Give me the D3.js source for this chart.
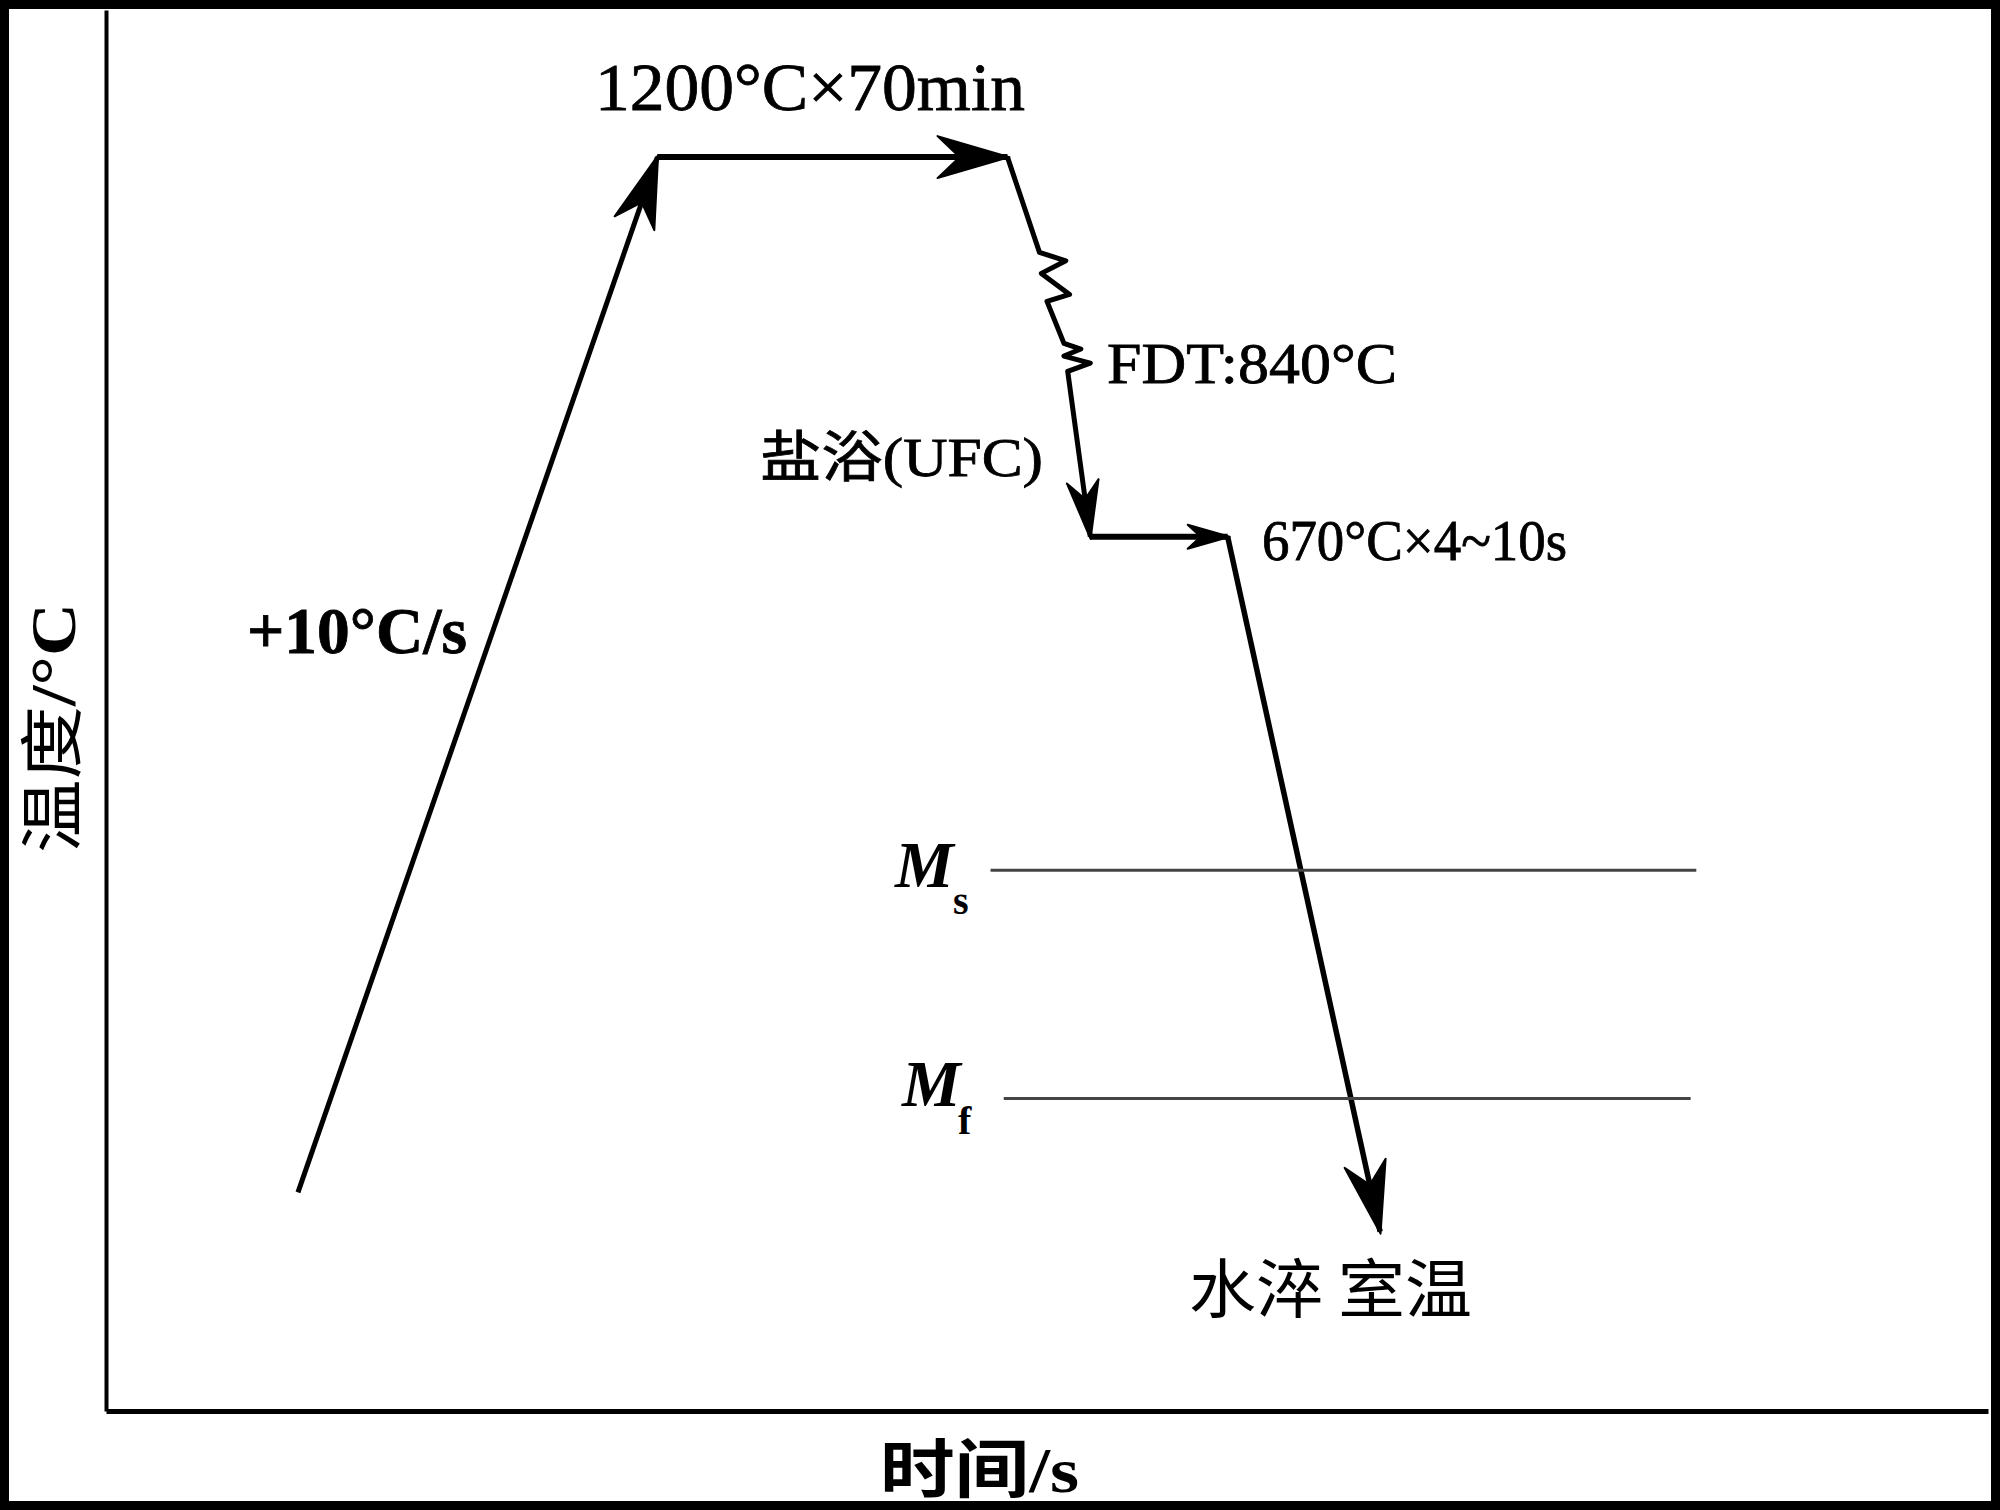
<!DOCTYPE html>
<html>
<head>
<meta charset="utf-8">
<script src="https://cdn.jsdelivr.net/npm/d3@7"></script>
<style>
  body { margin: 0; background: #fff; }
  svg { display: block; }
</style>
</head>
<body>
<div id="chart"></div>
<script>
var width = 2000, height = 1510;

// schematic process path, relative units (time 0-100, temperature 0-100)
var heating = [[10.2, 15.6], [29.3, 89.5]];
var soaking = [[29.3, 89.5], [47.9, 89.5]];
var rolling = [[47.9, 89.5], [49.6, 82.7], [51.0, 82.1], [49.7, 81.2], [51.2, 79.7],
               [50.0, 79.2], [50.9, 76.2], [51.8, 75.8], [50.9, 75.3], [52.3, 74.8],
               [51.1, 74.2], [52.3, 62.4]];
var holding = [[52.3, 62.4], [59.6, 62.4]];
var quench = [[59.6, 62.4], [67.7, 12.8]];

var msLine = [[47.0, 38.6], [84.5, 38.6]];
var mfLine = [[47.7, 22.3], [84.2, 22.3]];

var xLabel = "时间/s";
var yLabel = ["温度", "/°C"];

var serif = "'Liberation Serif', 'Noto Sans CJK SC', serif";
var cjk = "'Noto Sans CJK SC', sans-serif";

var svg = d3.select("#chart")
  .append("svg")
  .attr("width", width)
  .attr("height", height);

svg.append("rect")
  .attr("width", width).attr("height", height)
  .attr("fill", "#fff");

var x = d3.scaleLinear().domain([0, 100]).range([106, 1988]);
var y = d3.scaleLinear().domain([0, 100]).range([1411, 10]);

// axes: domain lines only
svg.append("g")
  .attr("transform", "translate(0," + y(0) + ")")
  .call(d3.axisBottom(x).tickValues([]).tickSizeOuter(0))
  .select(".domain").attr("stroke", "#000").attr("stroke-width", 5);

svg.append("g")
  .attr("transform", "translate(" + x(0) + ",0)")
  .call(d3.axisLeft(y).tickValues([]).tickSizeOuter(0))
  .select(".domain").attr("stroke", "#000").attr("stroke-width", 4);

// arrow heads
var defs = svg.append("defs");
function marker(id, L, W, N) {
  defs.append("marker")
    .attr("id", id)
    .attr("markerUnits", "userSpaceOnUse")
    .attr("viewBox", (-L - 2) + " " + (-W - 2) + " " + (L + 6) + " " + (2 * W + 4))
    .attr("markerWidth", L + 6)
    .attr("markerHeight", 2 * W + 4)
    .attr("refX", 0).attr("refY", 0)
    .attr("orient", "auto")
    .append("path")
    .attr("d", "M2,0L" + (-L) + "," + (-W) + "L" + (-N) + ",0L" + (-L) + "," + W + "Z")
    .attr("fill", "#000")
    .attr("stroke", "#000")
    .attr("stroke-width", 2)
    .attr("stroke-linejoin", "round");
}
marker("big", 70, 21, 48);
marker("mid", 56, 16, 38);
marker("small", 40, 12, 27);

var line = d3.line().x(d => x(d[0])).y(d => y(d[1]));

function segment(data, sw, head) {
  svg.append("path")
    .attr("d", line(data))
    .attr("fill", "none")
    .attr("stroke", "#000")
    .attr("stroke-width", sw)
    .attr("stroke-linejoin", "round")
    .attr("marker-end", "url(#" + head + ")");
}
segment(heating, 5, "big");
segment(soaking, 6, "big");
segment(rolling, 5, "mid");
segment(holding, 6, "small");
segment(quench, 5.5, "big");

// Ms / Mf lines
[msLine, mfLine].forEach(function (d) {
  svg.append("path")
    .attr("d", line(d))
    .attr("stroke", "#444")
    .attr("stroke-width", 3);
});

// labels
function label(txt, px, py, size, len, weight) {
  return svg.append("text")
    .attr("x", px).attr("y", py)
    .attr("font-family", serif)
    .attr("font-size", size)
    .attr("font-weight", weight || "normal")
    .attr("stroke", "#000")
    .attr("stroke-width", 0.8)
    .attr("textLength", len)
    .attr("lengthAdjust", "spacingAndGlyphs")
    .text(txt);
}
label("1200°C×70min", 595, 110, 68, 430);
label("FDT:840°C", 1107, 383, 57, 290);
label("盐浴(UFC)", 760, 476, 55, 283);
label("670°C×4~10s", 1262, 560, 56, 305);
label("+10°C/s", 247, 653, 66, 220, "bold");

svg.append("text")
  .attr("x", 1189).attr("y", 1312)
  .attr("font-family", cjk)
  .attr("font-size", 64)
  .attr("textLength", 283)
  .attr("lengthAdjust", "spacingAndGlyphs")
  .text("水淬 室温");

// Ms, Mf
function mLabel(sub, px, py, sx, sy) {
  svg.append("text")
    .attr("x", px).attr("y", py)
    .attr("font-family", serif)
    .attr("font-size", 66)
    .attr("font-style", "italic")
    .attr("font-weight", "bold")
    .text("M");
  svg.append("text")
    .attr("x", sx).attr("y", sy)
    .attr("font-family", serif)
    .attr("font-size", 40)
    .attr("font-weight", "bold")
    .text(sub);
}
mLabel("s", 895, 887, 953, 914);
mLabel("f", 902, 1106, 958, 1134);

// axis titles
svg.append("text")
  .attr("x", 880).attr("y", 1492)
  .attr("font-family", serif)
  .attr("font-size", 64)
  .attr("font-weight", "bold")
  .attr("textLength", 199)
  .attr("lengthAdjust", "spacingAndGlyphs")
  .text(xLabel);

var yt = svg.append("text")
  .attr("transform", "translate(75,728) rotate(-90)")
  .attr("text-anchor", "middle")
  .attr("font-family", serif)
  .attr("font-size", 64)
  .attr("textLength", 250)
  .attr("lengthAdjust", "spacingAndGlyphs");
yt.append("tspan").attr("font-family", cjk).text(yLabel[0]);
yt.append("tspan").attr("font-weight", "bold").text(yLabel[1]);

// outer frame
svg.append("rect")
  .attr("x", 4.5).attr("y", 4.5)
  .attr("width", width - 9).attr("height", height - 9)
  .attr("fill", "none")
  .attr("stroke", "#000")
  .attr("stroke-width", 9);
</script>
</body>
</html>
